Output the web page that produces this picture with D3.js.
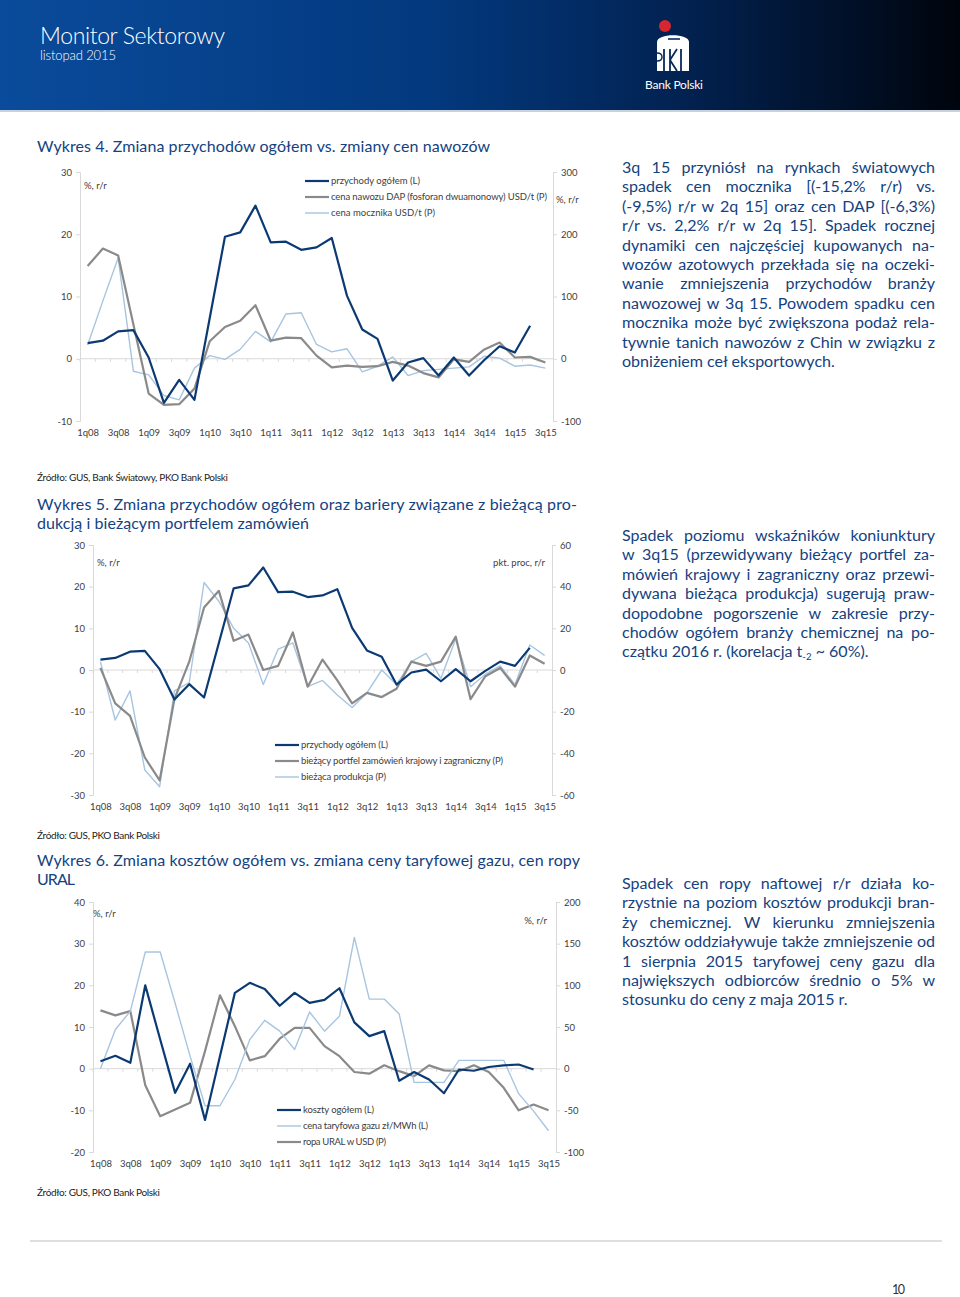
<!DOCTYPE html>
<html>
<head>
<meta charset="utf-8">
<script src="https://cdn.jsdelivr.net/npm/d3@7"></script>
<style>
  body { margin: 0; background: #fff; }
  svg { display: block; font-family: Lato, "Open Sans", sans-serif; }
</style>
</head>
<body>
<div id="page"></div>
<script>
// ---- data ----
const quarters = ["1q08","2q08","3q08","4q08","1q09","2q09","3q09","4q09",
  "1q10","2q10","3q10","4q10","1q11","2q11","3q11","4q11",
  "1q12","2q12","3q12","4q12","1q13","2q13","3q13","4q13",
  "1q14","2q14","3q14","4q14","1q15","2q15","3q15"];

// przychody ogółem, % r/r (L) - wykres 4 i 5
const przychody = [2.5, 2.9, 4.4, 4.6, 0.2, -7.1, -3.4, -6.6, 6.5, 19.6, 20.3, 24.6, 18.7, 18.8, 17.5, 17.9,
  19.4, 10.1, 4.7, 3.2, -3.5, -0.6, 0.1, -2.7, 0.2, -2.7, -0.2, 2.0, 1.0, 5.3, null];
// wykres 4 (P)
const cenaDAP = [149, 177, 166, 55, -56, -74, -73, -48, 28, 51, 61, 86, 29, 34, 33, 5,
  -14, -11, -13, -12, -5, -11, -23, -30, -1, -5, 15, 26, 2, 3, -6];
const cenaMocznika = [22, 93, 162, -20, -26, -59, -66, -15, 5, -1, 15, 44, 27, 72, 74, 23,
  11, 16, -21, -12, 3, -27, -19, -17, -15, -13, 4, 1, -12, -10, -15];
// wykres 5 (P)
const portfel = [1, -16, -22, -42, -53, -14, 4, 30, 38, 14, 17, 0, 2, 18, -8, 5,
  -5, -16, -11, -13, -9, 4, 2, 4, 16, -14, -3, 1, -8, 7, 3];
const produkcja = [4, -24, -10, -48, -56, -10, -6, 42, 33, 20, 13, -7, 10, 13, -8, -5,
  -12, -18, -11, 0, -7, 4, 8, -4, 15, -8, -2, 2, -7, 12, 7];
// wykres 6
const koszty = [1.8, 3.1, 1.4, 20, 7, -5.8, 1.2, -12.3, 3, 18.2, 20.6, 19.1, 15.1, 18.2, 15.8, 16.5,
  19.3, 11.1, 7.8, 9, -2.9, -0.8, -2.6, -5.9, -0.2, -0.5, 0.4, 0.8, 1.0, -0.2, null];
const gaz = [0, 9.4, 13.8, 28, 28, 15.7, 3, -8.9, -8.9, -2.6, 7, 11.6, 9, 4.6, 13.6, 9,
  12.6, 31.5, 16.7, 16.7, 13.1, -3.3, -3.3, -3.3, 2, 2, 2, 2, -6, -10.2, -14.9];
const ropa = [70, 64, 69, -20, -57, -49, -41, 21, 88, 51, 10, 15, 36, 49, 49, 27,
  15, -4, -6, 4, -3, -9, 4, -2, -3, 4, -4, -23, -50, -43, -50];

const ticks4L = [-10, 0, 10, 20, 30], ticks4R = [-100, 0, 100, 200, 300];
const ticks5L = [-30, -20, -10, 0, 10, 20, 30], ticks5R = [-60, -40, -20, 0, 20, 40, 60];
const ticks6L = [-20, -10, 0, 10, 20, 30, 40], ticks6R = [-100, -50, 0, 50, 100, 150, 200];

const NAVY = "#0b3a73", GREY = "#8a8a8a", LIGHT = "#a8c5e0", TXT = "#14427f";

const W = 960, H = 1297;
let svg = d3.select("#page").append("svg").attr("width", W).attr("height", H);

// ---- header ----
let grad = svg.append("defs").append("linearGradient").attr("id", "hdr");
grad.append("stop").attr("offset", "0%").attr("stop-color", "#0a4b9b");
grad.append("stop").attr("offset", "45%").attr("stop-color", "#03397e");
grad.append("stop").attr("offset", "72%").attr("stop-color", "#02214f");
grad.append("stop").attr("offset", "100%").attr("stop-color", "#00040c");
svg.append("rect").attr("width", W).attr("height", 110).attr("fill", "url(#hdr)");
svg.append("rect").attr("y", 110).attr("width", W).attr("height", 2).attr("fill", "#c8d2de");

function txt(g, x, y, s, o) {
  o = o || {};
  let t = g.append("text").attr("x", x).attr("y", y)
    .style("font-size", (o.size || 15) + "px")
    .attr("fill", o.fill || TXT)
    .attr("text-anchor", o.anchor || "start")
    .text(s);
  if (o.weight) t.style("font-weight", o.weight);
  if (o.len) t.attr("textLength", o.len).attr("lengthAdjust", "spacing");
  return t;
}

txt(svg, 40, 44, "Monitor Sektorowy", {size: 23, fill: "#fff", len: 185, weight: 300});
txt(svg, 40, 60, "listopad 2015", {size: 13, fill: "#fff", len: 76, weight: 300});

// logo
let logo = svg.append("g");
logo.append("circle").attr("cx", 665).attr("cy", 26).attr("r", 6).attr("fill", "#d7262e");
logo.append("path")
  .attr("d", "M657,42 C657,33 689,33 689,42 L689,71 L657,71 Z")
  .attr("fill", "#fff");
logo.append("path").attr("d", "M668,39 L680,39").attr("stroke", "#062a5c").attr("stroke-width", 1.6);
logo.append("path").attr("d", "M664,49 L664,71 M670,49 L670,71 M670,60 L677,49 M670,60 L677,71 M681,49 L681,71")
  .attr("stroke", "#062a5c").attr("stroke-width", 1.8).attr("fill", "none");
logo.append("path").attr("d", "M657,53 Q662,53 662,57 Q662,61 657,61").attr("stroke", "#062a5c")
  .attr("stroke-width", 1.4).attr("fill", "none");
txt(svg, 674, 89, "Bank Polski", {size: 12, fill: "#fff", anchor: "middle", len: 58});

// ---- chart helper ----
function drawChart(c) {
  let g = svg.append("g");
  let x = d3.scalePoint().domain(quarters).range([c.x0, c.x1]).padding(0.5);
  let step = x.step();
  let yL = d3.scaleLinear().domain(c.domL).range([c.y1, c.y0]);
  let yR = d3.scaleLinear().domain(c.domR).range([c.y1, c.y0]);

  let axL = g.append("g").attr("transform", `translate(${c.x0},0)`)
    .call(d3.axisLeft(yL).tickValues(c.ticksL).tickSize(4).tickPadding(4).tickFormat(d => String(d)));
  let axR = g.append("g").attr("transform", `translate(${c.x1},0)`)
    .call(d3.axisRight(yR).tickValues(c.ticksR).tickSize(4).tickPadding(4).tickFormat(d => String(d)));
  [axL, axR].forEach(a => {
    a.select(".domain").attr("stroke", "#d9d9d9");
    a.selectAll(".tick line").attr("stroke", "#d9d9d9");
    a.selectAll(".tick text").attr("fill", "#404040").style("font-size", "9.5px")
      .style("font-family", "Lato, sans-serif");
  });

  // category axis crossing at zero
  let zero = g.append("g").attr("transform", `translate(0,${yL(0)})`);
  zero.append("line").attr("x1", c.x0).attr("x2", c.x1).attr("stroke", "#d9d9d9");
  zero.selectAll("line.tk").data(quarters).enter().append("line").attr("class", "tk")
    .attr("x1", d => x(d) - step / 2).attr("x2", d => x(d) - step / 2)
    .attr("y1", 0).attr("y2", 3).attr("stroke", "#d9d9d9");

  // labels at the bottom
  let axB = g.append("g").attr("transform", `translate(0,${c.y1})`)
    .call(d3.axisBottom(x).tickSize(0).tickPadding(8.5)
      .tickFormat((d, i) => i % 2 === 0 ? d : ""));
  axB.select(".domain").remove();
  axB.selectAll(".tick text").attr("fill", "#404040").style("font-size", "9.5px")
    .style("font-family", "Lato, sans-serif");

  // series
  c.series.slice().reverse().forEach(s => {
    let sc = s.axis === "L" ? yL : yR;
    let line = d3.line().defined(d => d != null)
      .x((d, i) => x(quarters[i])).y(d => sc(d));
    g.append("path").datum(s.values).attr("d", line)
      .attr("fill", "none").attr("stroke", s.color).attr("stroke-width", s.width)
      .attr("stroke-linejoin", "round");
  });

  // legend
  c.series.forEach((s, i) => {
    let ly = c.legY + i * 16;
    g.append("line").attr("x1", c.legX).attr("x2", c.legX + 24).attr("y1", ly).attr("y2", ly)
      .attr("stroke", s.color).attr("stroke-width", s.width);
    txt(g, c.legX + 26, ly + 3.3, s.name, {size: 9.5, fill: "#404040", len: s.len});
  });

  // units
  c.units.forEach(u => txt(g, u.x, u.y, u.t, {size: 9.5, fill: "#404040", anchor: u.anchor}));
}

// ---- Wykres 4 ----
txt(svg, 37, 152, "Wykres 4. Zmiana przychodów ogółem vs. zmiany cen nawozów", {size: 16, len: 453});
drawChart({
  x0: 80, x1: 553, y0: 172, y1: 421, domL: [-10, 30], domR: [-100, 300],
  ticksL: ticks4L, ticksR: ticks4R,
  series: [
    {name: "przychody ogółem (L)", values: przychody, axis: "L", color: NAVY, width: 2.2, len: 89},
    {name: "cena nawozu DAP (fosforan dwuamonowy) USD/t (P)", values: cenaDAP, axis: "R", color: GREY, width: 2.2, len: 216},
    {name: "cena mocznika  USD/t (P)", values: cenaMocznika, axis: "R", color: LIGHT, width: 1.4, len: 104}
  ],
  legX: 305, legY: 181,
  units: [{x: 84, y: 189, t: "%, r/r"}, {x: 556, y: 203, t: "%, r/r"}]
});
txt(svg, 37, 481, "Źródło: GUS, Bank Światowy, PKO Bank Polski", {size: 10, fill: "#222", len: 191});

// ---- Wykres 5 ----
txt(svg, 37, 510, "Wykres 5. Zmiana przychodów ogółem oraz bariery związane z bieżącą pro-", {size: 16, len: 540});
txt(svg, 37, 529, "dukcją i bieżącym portfelem zamówień", {size: 16, len: 272});
drawChart({
  x0: 93, x1: 552, y0: 545, y1: 795, domL: [-30, 30], domR: [-60, 60],
  ticksL: ticks5L, ticksR: ticks5R,
  series: [
    {name: "przychody ogółem (L)", values: przychody, axis: "L", color: NAVY, width: 2.2, len: 87},
    {name: "bieżący portfel zamówień krajowy i zagraniczny (P)", values: portfel, axis: "R", color: GREY, width: 2.2, len: 202},
    {name: "bieżąca produkcja (P)", values: produkcja, axis: "R", color: LIGHT, width: 1.4, len: 85}
  ],
  legX: 275, legY: 745,
  units: [{x: 97, y: 566, t: "%, r/r"}, {x: 545, y: 566, t: "pkt. proc, r/r", anchor: "end"}]
});
txt(svg, 37, 839, "Źródło: GUS, PKO Bank Polski", {size: 10, fill: "#222", len: 123});

// ---- Wykres 6 ----
txt(svg, 37, 866, "Wykres 6. Zmiana kosztów ogółem vs. zmiana ceny taryfowej gazu, cen ropy", {size: 16, len: 543});
txt(svg, 37, 885, "URAL", {size: 16, len: 38});
drawChart({
  x0: 93, x1: 556, y0: 902, y1: 1152, domL: [-20, 40], domR: [-100, 200],
  ticksL: ticks6L, ticksR: ticks6R,
  series: [
    {name: "koszty ogółem (L)", values: koszty, axis: "L", color: NAVY, width: 2.2, len: 71},
    {name: "cena taryfowa gazu zł/MWh (L)", values: gaz, axis: "L", color: LIGHT, width: 1.4, len: 125},
    {name: "ropa URAL w USD (P)", values: ropa, axis: "R", color: GREY, width: 2.2, len: 83}
  ],
  legX: 277, legY: 1110,
  units: [{x: 93, y: 917, t: "%, r/r"}, {x: 547, y: 924, t: "%, r/r", anchor: "end"}]
});
txt(svg, 37, 1196, "Źródło: GUS, PKO Bank Polski", {size: 10, fill: "#222", len: 123});

// ---- side texts ----
const para1 = ["3q 15 przyniósł na rynkach światowych", "spadek cen mocznika [(-15,2% r/r) vs.",
  "(-9,5%) r/r w 2q 15] oraz cen DAP [(-6,3%)", "r/r vs. 2,2% r/r w 2q 15]. Spadek rocznej",
  "dynamiki cen najczęściej kupowanych na-", "wozów azotowych przekłada się na oczeki-",
  "wanie zmniejszenia przychodów branży", "nawozowej w 3q 15. Powodem spadku cen",
  "mocznika może być zwiększona podaż rela-", "tywnie tanich nawozów z Chin w związku z",
  "obniżeniem ceł eksportowych."];
const para2 = ["Spadek poziomu wskaźników koniunktury", "w 3q15 (przewidywany bieżący portfel za-",
  "mówień krajowy i zagraniczny oraz przewi-", "dywana bieżąca produkcja) sugerują praw-",
  "dopodobne pogorszenie w zakresie przy-", "chodów ogółem branży chemicznej na po-"];
const para3 = ["Spadek cen ropy naftowej r/r działa ko-", "rzystnie na poziom kosztów produkcji bran-",
  "ży chemicznej. W kierunku zmniejszenia", "kosztów oddziaływuje także zmniejszenie od",
  "1 sierpnia 2015 taryfowej ceny gazu dla", "największych odbiorców średnio o 5% w",
  "stosunku do ceny z maja 2015 r."];

// font size so that the last (unjustified) line is as wide as in the original
let probe = txt(svg, 0, -50, "obniżeniem ceł eksportowych.", {size: 15});
let PS = Math.min(16.5, 15 * 213 / probe.node().getComputedTextLength());
probe.remove();

function justify(t, s, width) {
  let n = t.node().getComputedTextLength();
  let sp = (s.match(/ /g) || []).length;
  if (sp && n < width) t.attr("word-spacing", (width - n) / sp);
  else t.attr("textLength", width).attr("lengthAdjust", "spacing");
}

function para(lines, y0, justLast) {
  lines.forEach((l, i) => {
    let t = txt(svg, 622, y0 + i * 19.4, l, {size: PS});
    if (i < lines.length - 1 || justLast) justify(t, l, 313);
  });
}
para(para1, 173, false);
para(para2, 541, true);
let last2 = svg.append("text").attr("x", 622).attr("y", 541 + 6 * 19.4)
  .style("font-size", PS + "px").attr("fill", TXT);
last2.append("tspan").text("czątku 2016 r. (korelacja t");
last2.append("tspan").text("-2").style("font-size", (PS * 0.6) + "px").attr("dy", 3);
last2.append("tspan").text(" ~ 60%).").attr("dy", -3);
para(para3, 889, false);

// ---- footer ----
svg.append("line").attr("x1", 30).attr("x2", 942).attr("y1", 1241).attr("y2", 1241)
  .attr("stroke", "#d5d5d5").attr("stroke-width", 1.5);
txt(svg, 892, 1294, "10", {size: 12.5, fill: "#333", len: 13});
</script>
</body>
</html>
